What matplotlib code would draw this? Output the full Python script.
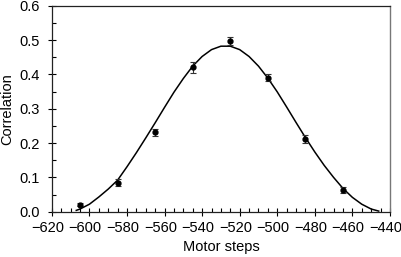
import numpy as np
import matplotlib
matplotlib.use('Agg')
import matplotlib.pyplot as plt
import matplotlib.transforms as mtransforms
from matplotlib.ticker import MultipleLocator

plt.rcParams['font.family'] = ['Liberation Sans', 'DejaVu Sans']

# measured points
steps = [-605, -585, -565, -545, -525, -505, -485, -465]
corr = [0.021, 0.084, 0.231, 0.421, 0.497, 0.390, 0.212, 0.063]
corr_err = [0.004, 0.010, 0.011, 0.016, 0.011, 0.010, 0.011, 0.008]

# fitted curve
fit_steps = [-607, -605, -600, -595, -590, -585, -580, -575, -570, -565,
             -560, -555, -550, -545, -540, -535, -530, -525, -520, -515,
             -510, -505, -500, -495, -490, -485, -480, -475, -470, -465,
             -460, -455, -450, -446]
fit_corr = [0.004, 0.008, 0.022, 0.043, 0.066, 0.092, 0.131, 0.172, 0.215, 0.259,
            0.304, 0.348, 0.388, 0.424, 0.452, 0.472, 0.482, 0.482, 0.472, 0.452,
            0.424, 0.389, 0.349, 0.305, 0.260, 0.216, 0.174, 0.135, 0.100, 0.068,
            0.042, 0.022, 0.008, 0.002]

x_ticks = [-620, -600, -580, -560, -540, -520, -500, -480, -460, -440]
x_labels = ['\u2212' + str(abs(v)) for v in x_ticks]

fig = plt.figure(figsize=(4.02, 2.57), dpi=100)
ax = fig.add_axes([0.129, 0.176, 0.841, 0.802])

ax.plot(fit_steps, fit_corr, color='black', lw=1.1, zorder=2)
ax.errorbar(steps, corr, yerr=corr_err, fmt='o', color='black', ms=3.5,
            ecolor='#333333', elinewidth=0.8, capsize=2.5, capthick=0.8, zorder=3)

ax.set_xlim(-620, -440)
ax.set_ylim(0, 0.6)
ax.set_xticks(x_ticks, x_labels)
ax.xaxis.set_minor_locator(MultipleLocator(5))
ax.yaxis.set_major_locator(MultipleLocator(0.1))
ax.yaxis.set_minor_locator(MultipleLocator(0.05))
ax.yaxis.set_major_formatter(matplotlib.ticker.FormatStrFormatter('%.1f'))

ax.tick_params(which='major', direction='inout', length=5.8, width=0.8, labelsize=10.5)
ax.tick_params(axis='x', which='major', pad=4)
ax.tick_params(axis='y', which='major', pad=5.5)
ax.tick_params(which='minor', direction='in', length=3, width=0.8)

# digits centred on the tick, minus sign hanging to the left
shift = mtransforms.ScaledTranslation(-4.3 / 100, 0, fig.dpi_scale_trans)
for lab in ax.xaxis.get_majorticklabels():
    lab.set_transform(lab.get_transform() + shift)

for s in ['left', 'bottom', 'top']:
    ax.spines[s].set_color('#222222')
    ax.spines[s].set_linewidth(0.9)
ax.spines['right'].set_color('#777777')
ax.spines['right'].set_linewidth(1.0)

ax.set_xlabel('Motor steps', fontsize=10.5, labelpad=3)
ax.set_ylabel('Correlation', fontsize=10.5, labelpad=4)

fig.savefig('out.png', dpi=100)
